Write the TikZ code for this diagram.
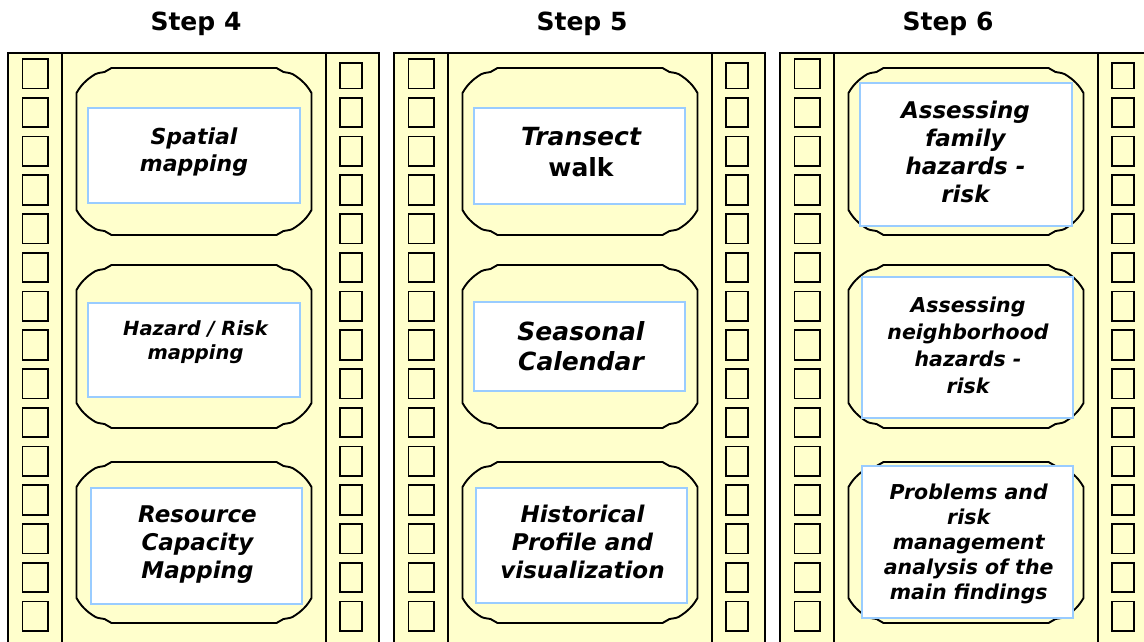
\documentclass[tikz,border=0pt]{standalone}
\usepackage{fontspec}
\setmainfont{DejaVu Sans}[BoldFont={DejaVu Sans Bold},ItalicFont={DejaVu Sans Oblique},
  BoldItalicFont={DejaVu Sans Bold Oblique}]
\usepackage{xcolor}
\definecolor{cFilm}{HTML}{FFFFCC}
\definecolor{cEdge}{HTML}{000000}
\definecolor{cBlue}{HTML}{99CCFF}
\usepackage{tikz}
\usetikzlibrary{positioning}
\tikzset{
  film-strip/.style={draw=cEdge,line width=1.9pt,fill=cFilm},
  film-hole/.style={draw=cEdge,line width=1.9pt,fill=cFilm},
  film-frame/.style={draw=cEdge,line width=1.9pt,fill=cFilm,line join=round},
  film-box/.style={draw=cBlue,line width=1.8pt,fill=white,inner sep=0pt},
  film-text/.style 2 args={align=center,inner sep=0pt,
    font=\fontsize{#1}{#2}\selectfont\bfseries\itshape},
  step-title/.style={inner sep=0pt,font=\fontsize{25}{30}\selectfont\bfseries},
}
% picture frame with notched corners: x0, y0, width, height (px)
\newcommand{\filmframe}[4]{%
  \begin{scope}[shift={(#1,#2)}]
    \draw[film-frame] (0,25) .. controls (4,18) and (9,12) .. (19,6) -- (22,5) -- (28,4) -- (35,0)
      -- ({#3-35},0) -- ({#3-28},4) -- ({#3-22},5) -- ({#3-19},6)
      .. controls ({#3-9},12) and ({#3-4},18) .. (#3,25)
      -- (#3,{#4-25}) .. controls ({#3-4},{#4-18}) and ({#3-9},{#4-12}) .. ({#3-19},{#4-6})
      -- ({#3-22},{#4-5}) -- ({#3-28},{#4-4}) -- ({#3-35},#4)
      -- (35,#4) -- (28,{#4-4}) -- (22,{#4-5}) -- (19,{#4-6})
      .. controls (9,{#4-12}) and (4,{#4-18}) .. (0,{#4-25}) -- cycle;
  \end{scope}}

\begin{document}
\begin{tikzpicture}[x=1pt,y=-1pt]
  \useasboundingbox (0,0) rectangle (1144,641);
  \fill[white] (0,0) rectangle (1144,641);
  \clip (0,0) rectangle (1144,641);

  % strips, sprocket holes and frames
  \foreach \x in {8,394,780}{
    \draw[film-strip] (\x,53) rectangle ++(371,600);
    \draw[film-strip] (\x+54,53) -- (\x+54,660);
    \draw[film-strip] (\x+318,53) -- (\x+318,660);
    \foreach \i in {0,...,14}{
      \pgfmathsetmacro\rt{\i==0 ? 4 : 0}
      \draw[film-hole] (\x+14.5,{59+38.75*\i}) rectangle ++(25.5,29.5);
      \draw[film-hole] (\x+332,{59+38.75*\i+\rt}) rectangle ++(22,29.5-\rt);
    }
    \filmframe{\x+68.5}{68}{235}{167}
    \filmframe{\x+68.5}{265}{235}{163}
    \filmframe{\x+68.5}{462}{235}{161}
  }

  \node[step-title] (step4) at (196,24) {Step 4};
  \node[step-title] (step5) at (582,24) {Step 5};
  \node[step-title] (step6) at (948,24) {Step 6};

  \node[film-box,minimum width=212pt,minimum height=95pt] (box41) at (194,155.5) {};
  \node[film-box,minimum width=212pt,minimum height=94pt] (box42) at (194,350) {};
  \node[film-box,minimum width=211pt,minimum height=116pt] (box43) at (196.5,546) {};
  \node[film-box,minimum width=211pt,minimum height=96pt] (box51) at (579.5,156) {};
  \node[film-box,minimum width=211pt,minimum height=89pt] (box52) at (579.5,346.5) {};
  \node[film-box,minimum width=211pt,minimum height=115pt] (box53) at (581.5,545.5) {};
  \node[film-box,minimum width=212pt,minimum height=143pt] (box61) at (966,154.5) {};
  \node[film-box,minimum width=211pt,minimum height=141pt] (box62) at (967.5,347.5) {};
  \node[film-box,minimum width=211pt,minimum height=152pt] (box63) at (967.5,542) {};

  \node[film-text={22}{27}] (spatial) at (194,152) {Spatial\\mapping};
  \node[film-text={19.5}{24}] (hazard) at (195.5,342.5) {Hazard / Risk\\mapping};
  \node[film-text={23}{28}] (resource) at (197.5,544.5) {Resource\\Capacity\\Mapping};
  \node[film-text={25}{31}] (transect) at (581,152.5) {Transect\\\upshape walk};
  \node[film-text={25}{30}] (seasonal) at (581,346.5) {Seasonal\\Calendar};
  \node[film-text={23}{28}] (historical) at (582.5,542) {Historical\\Profile and\\visualization};
  \node[film-text={23}{28}] (family) at (965.5,152) {Assessing\\family\\hazards -\\risk};
  \node[film-text={20.5}{27}] (neighbor) at (968,345) {Assessing\\neighborhood\\hazards -\\risk};
  \node[film-text={20.5}{25}] (problems) at (968.7,543.5)
    {Problems and\\risk\\management\\analysis of the\\main findings};
\end{tikzpicture}
\end{document}
